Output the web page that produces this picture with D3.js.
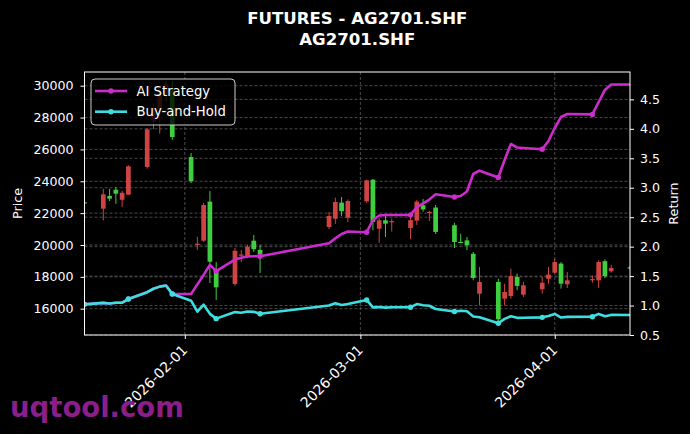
<!DOCTYPE html>
<html>
<head>
<meta charset="utf-8">
<script src="https://cdn.jsdelivr.net/npm/d3@7"></script>
<style>
  body { margin: 0; background: #000; }
  text { font-family: "DejaVu Sans", sans-serif; }
</style>
</head>
<body>
<svg id="chart" width="690" height="434"></svg>
<script>
// trading days of AG2701.SHF
const dates = [
  "2026-01-16","2026-01-19","2026-01-20","2026-01-21","2026-01-22","2026-01-23",
  "2026-01-26","2026-01-27","2026-01-28","2026-01-29","2026-01-30",
  "2026-02-02","2026-02-03","2026-02-04","2026-02-05","2026-02-06",
  "2026-02-09","2026-02-10","2026-02-11","2026-02-12","2026-02-13",
  "2026-02-24","2026-02-25","2026-02-26","2026-02-27",
  "2026-03-02","2026-03-03","2026-03-04","2026-03-05","2026-03-06",
  "2026-03-09","2026-03-10","2026-03-11","2026-03-12","2026-03-13",
  "2026-03-16","2026-03-17","2026-03-18","2026-03-19","2026-03-20",
  "2026-03-23","2026-03-24","2026-03-25","2026-03-26","2026-03-27",
  "2026-03-30","2026-03-31","2026-04-01","2026-04-02","2026-04-03",
  "2026-04-07","2026-04-08","2026-04-09","2026-04-10","2026-04-13"
];
const opens = [
  22680,22280,23080,23470,22840,23160, 24900,27750,28600,29400,29700,
  25520,20000,20270,22720,18430, 17550,19340,19270,20270,19690,
  21130,21650,22660,21710, 22740,24100,21020,21550,21460,
  21070,21530,22490,22040,22350, 21240,20200,20290,19450,16940,
  17680,16630,16800,17990,16880, 17220,17880,18260,18830,17530,
  17820,17780,18980,18350,18600
];
const highs = [
  22760,23530,23520,23640,23410,25000, 27340,28900,29800,30350,30300,
  25780,20520,22640,23390,18930, 19810,19690,20000,20630,20000,
  22070,22970,23010,22860, 24110,24140,21690,21950,21660,
  21820,22820,22890,22150,22510, 21400,20710,20500,19560,18620,
  17880,17570,18510,18200,17680, 17990,18620,19140,18930,18300,
  18100,19040,19100,18760,18680
];
const lows = [
  22540,21550,22760,22590,22390,23140, 24790,27280,27000,29000,26600,
  23890,19690,20190,17610,16550, 17430,18930,19180,19560,18240,
  20990,21320,21820,21440, 22640,20920,20140,20500,20850,
  20360,21260,22090,21510,20690, 19810,20140,19670,17780,16210,
  15170,16210,16630,17160,16740, 16940,17570,18200,17260,17300,
  17630,17300,17930,18260,18460
];
const closes = [
  22600,23180,22910,23220,23280,24940, 27260,28600,29400,30100,26780,
  24000,20080,22510,18950,17340, 19640,19400,19890,19730,19370,
  21820,22700,22120,22760, 24060,21450,21550,21340,21500,
  21560,22720,22230,22080,20820, 20190,20150,19980,17930,17680,
  15340,17050,18050,17430,17470, 17630,18140,18930,17570,17780,
  17860,18930,18050,18560,18540
];
const strategyReturn = [
  1.020,1.046,1.034,1.047,1.050,1.110, 1.226,1.285,1.321,1.340,1.195,
  1.195,1.360,1.520,1.690,1.585, 1.780,1.810,1.833,1.836,1.836,
  2.057,2.140,2.215,2.257, 2.245,2.452,2.529,2.537,2.537,
  2.540,2.673,2.735,2.800,2.890, 2.843,2.860,2.936,3.233,3.290,
  3.174,3.471,3.743,3.683,3.675, 3.653,3.794,4.014,4.201,4.252,
  4.245,4.456,4.660,4.753,4.753
];
const holdReturn = [
  1.020,1.046,1.034,1.047,1.050,1.110, 1.226,1.285,1.321,1.340,1.195,
  1.082,0.896,1.016,0.859,0.778, 0.889,0.878,0.900,0.893,0.862,
  1.000,1.040,1.010,1.027, 1.095,0.969,0.974,0.964,0.971,
  0.972,1.025,1.004,0.997,0.941, 0.900,0.912,0.904,0.813,0.802,
  0.699,0.774,0.819,0.791,0.793, 0.800,0.822,0.858,0.797,0.807,
  0.810,0.858,0.819,0.841,0.839
];
const priceTicks = [16000,18000,20000,22000,24000,26000,28000,30000];
const returnTicks = [0.5,1.0,1.5,2.0,2.5,3.0,3.5,4.0,4.5];
const dateTicks = ["2026-02-01","2026-03-01","2026-04-01"];

const parseDate = d3.timeParse("%Y-%m-%d");
const plotLeft = 84.5, plotRight = 630, plotTop = 72, plotBottom = 335;
const upColor = "#e04a4a", downColor = "#45e045";
const stratColor = "#cc2ccc", holdColor = "#3ddde0";
const gridColor = "#5c5c5c";

const rows = dates.map((d, i) => ({
  date: parseDate(d), open: opens[i], high: highs[i], low: lows[i], close: closes[i],
  strat: strategyReturn[i], hold: holdReturn[i], i: i
}));

const svg = d3.select("#chart");
svg.append("rect").attr("width", 690).attr("height", 434).attr("fill", "#000");

const x = d3.scaleTime()
  .domain([rows[0].date, rows[rows.length - 1].date])
  .range([plotLeft, plotRight]);
const yPrice = d3.scaleLinear().domain([14349, 30860]).range([plotBottom, plotTop]);
const yRet = d3.scaleLinear().domain([0.5, 4.965]).range([plotBottom, plotTop]);

svg.append("clipPath").attr("id", "plot-clip")
  .append("rect").attr("x", plotLeft).attr("y", plotTop)
  .attr("width", plotRight - plotLeft).attr("height", plotBottom - plotTop);

// grid lines (both y axes and the dates)
const grid = svg.append("g").attr("stroke", gridColor).attr("stroke-width", 0.8)
  .attr("stroke-dasharray", "3,2");
grid.selectAll(".gp").data(priceTicks).join("line")
  .attr("x1", plotLeft).attr("x2", plotRight)
  .attr("y1", d => yPrice(d)).attr("y2", d => yPrice(d));
grid.selectAll(".gr").data(returnTicks).join("line")
  .attr("x1", plotLeft).attr("x2", plotRight)
  .attr("y1", d => yRet(d)).attr("y2", d => yRet(d));
grid.selectAll(".gx").data(dateTicks).join("line")
  .attr("x1", d => x(parseDate(d))).attr("x2", d => x(parseDate(d)))
  .attr("y1", plotTop).attr("y2", plotBottom);

// candles
const candleW = (x(parseDate("2026-01-20")) - x(parseDate("2026-01-19"))) * 0.75;
const candles = svg.append("g").attr("clip-path", "url(#plot-clip)")
  .selectAll("g").data(rows).join("g").attr("opacity", 0.92);
candles.append("line")
  .attr("x1", d => x(d.date)).attr("x2", d => x(d.date))
  .attr("y1", d => yPrice(d.high)).attr("y2", d => yPrice(d.low))
  .attr("stroke", d => d.close >= d.open ? upColor : downColor)
  .attr("stroke-width", 1);
candles.append("rect")
  .attr("x", d => x(d.date) - candleW / 2)
  .attr("width", candleW)
  .attr("y", d => yPrice(Math.max(d.open, d.close)))
  .attr("height", d => Math.max(1.2, yPrice(Math.min(d.open, d.close)) - yPrice(Math.max(d.open, d.close))))
  .attr("fill", d => d.close >= d.open ? upColor : downColor);

// return lines
const lines = svg.append("g").attr("clip-path", "url(#plot-clip)");
const series = [
  { key: "strat", color: stratColor, label: "AI Strategy" },
  { key: "hold", color: holdColor, label: "Buy-and-Hold" }
];
series.forEach(s => {
  lines.append("path")
    .datum(rows)
    .attr("fill", "none")
    .attr("stroke", s.color)
    .attr("stroke-width", 2.6)
    .attr("stroke-linejoin", "round")
    .attr("d", d3.line().x(d => x(d.date)).y(d => yRet(d[s.key])));
  lines.selectAll(".m-" + s.key)
    .data(rows.filter(d => d.i % 5 === 0))
    .join("circle")
    .attr("cx", d => x(d.date)).attr("cy", d => yRet(d[s.key]))
    .attr("r", 2.7).attr("fill", s.color);
});

// spines
svg.append("rect").attr("x", plotLeft).attr("y", plotTop)
  .attr("width", plotRight - plotLeft).attr("height", plotBottom - plotTop)
  .attr("fill", "none").attr("stroke", "#fff").attr("stroke-width", 1);

function styleAxis(g) {
  g.select(".domain").remove();
  g.selectAll(".tick line").attr("stroke", "#fff");
  g.selectAll(".tick text").attr("fill", "#fff")
    .style("font-size", "12.6px").style("font-family", "DejaVu Sans, sans-serif");
}

svg.append("g").attr("transform", `translate(${plotLeft},0)`)
  .call(d3.axisLeft(yPrice).tickValues(priceTicks).tickFormat(d3.format("d"))
    .tickSize(4).tickPadding(7))
  .call(styleAxis);

svg.append("g").attr("transform", `translate(${plotRight},0)`)
  .call(d3.axisRight(yRet).tickValues(returnTicks).tickFormat(d3.format(".1f"))
    .tickSize(4).tickPadding(6))
  .call(styleAxis);

const xAxis = svg.append("g").attr("transform", `translate(0,${plotBottom})`)
  .call(d3.axisBottom(x).tickValues(dateTicks.map(parseDate))
    .tickFormat(d3.timeFormat("%Y-%m-%d")).tickSize(4))
  .call(styleAxis);
xAxis.selectAll(".tick text")
  .attr("x", 0).attr("y", 0).attr("dy", 0)
  .attr("text-anchor", "end")
  .style("font-size", "14px")
  .attr("transform", "translate(3,16) rotate(-45)");

// axis labels
svg.append("text")
  .attr("transform", `translate(22,${(plotTop + plotBottom) / 2}) rotate(-90)`)
  .attr("text-anchor", "middle").attr("fill", "#fff")
  .style("font-size", "12.8px").text("Price");
svg.append("text")
  .attr("transform", `translate(678,${(plotTop + plotBottom) / 2}) rotate(-90)`)
  .attr("text-anchor", "middle").attr("fill", "#fff")
  .style("font-size", "12.8px").text("Return");

// title
const titleX = (plotLeft + plotRight) / 2;
svg.append("text").attr("x", titleX).attr("y", 24)
  .attr("text-anchor", "middle").attr("fill", "#fff")
  .style("font-size", "16.6px").style("font-weight", "bold")
  .text("FUTURES - AG2701.SHF");
svg.append("text").attr("x", titleX).attr("y", 45)
  .attr("text-anchor", "middle").attr("fill", "#fff")
  .style("font-size", "16.6px").style("font-weight", "bold")
  .text("AG2701.SHF");

// legend
const legend = svg.append("g").attr("transform", "translate(91,79)");
legend.append("rect").attr("width", 144).attr("height", 46).attr("rx", 4)
  .attr("fill", "#000").attr("fill-opacity", 0.8)
  .attr("stroke", "#cccccc").attr("stroke-width", 1);
series.forEach((s, i) => {
  const cy = 12 + i * 20.7;
  legend.append("line").attr("x1", 4).attr("x2", 36).attr("y1", cy).attr("y2", cy)
    .attr("stroke", s.color).attr("stroke-width", 2.6);
  legend.append("circle").attr("cx", 20).attr("cy", cy).attr("r", 2.7).attr("fill", s.color);
  legend.append("text").attr("x", 45.5).attr("y", cy + 4.7).attr("fill", "#fff")
    .style("font-size", "13.2px").text(s.label);
});

// watermark
svg.append("text").attr("x", 10).attr("y", 417)
  .attr("fill", "#8a1e8a")
  .style("font-size", "27.5px").style("font-weight", "bold")
  .text("uqtool.com");
</script>
</body>
</html>
